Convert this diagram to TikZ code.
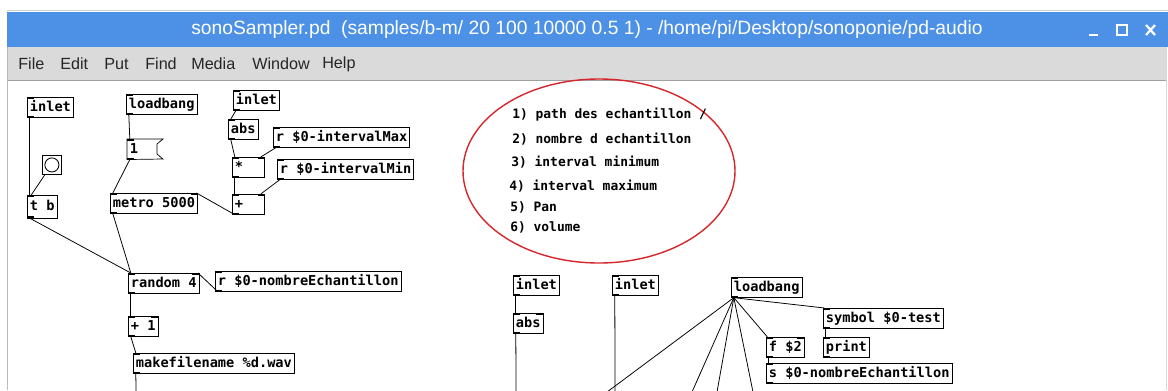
\documentclass[tikz,border=0pt]{standalone}
\usepackage{fontspec}
\setmainfont{Liberation Sans}
\newfontfamily\pdfont{DejaVu Sans Mono}
\usetikzlibrary{positioning, shapes, arrows.meta, calc}
\definecolor{titleblue}{RGB}{76,145,230}
\definecolor{menugray}{RGB}{218,218,218}
\definecolor{framegray}{RGB}{160,160,160}
\definecolor{ovalred}{RGB}{214,38,44}

\begin{document}
\begin{tikzpicture}[x=0.025cm, y=-0.025cm,
    pdobj/.style={draw, line width=0.5pt, anchor=north west,
      font=\pdfont\bfseries\fontsize{9.7}{11}\selectfont,
      inner xsep=1.8pt, inner ysep=0pt, text height=7.6pt, text depth=2.2pt,
      minimum height=14.2pt,
      path picture={\fill (path picture bounding box.north west) rectangle ++(5pt,-1.2pt);
        \fill (path picture bounding box.south west) rectangle ++(5pt,1.2pt);}},
    pdtwo/.style={pdobj,
      path picture={\fill (path picture bounding box.north west) rectangle ++(5pt,-1.2pt);
        \fill (path picture bounding box.north east) rectangle ++(-5pt,-1.2pt);
        \fill (path picture bounding box.south west) rectangle ++(5pt,1.2pt);}},
    bangbox/.style={draw, line width=0.6pt, anchor=north west, minimum size=13.5pt, inner sep=0pt,
      path picture={\draw (path picture bounding box.center) circle (5pt);}},
    note/.style={anchor=west, font=\pdfont\bfseries\fontsize{9.2}{11}\selectfont, inner sep=0pt},
    menuitem/.style={anchor=west, inner sep=0pt, font=\fontsize{11.5}{13}\selectfont, text=black!85},
    cord/.style={line width=0.55pt}]
  \useasboundingbox (0,0) rectangle (1168,390);

  % Window
  \draw[framegray!50] (7,10) -- (1168,10);
  \fill[titleblue] (7,12) rectangle (1168,47);
  \fill[menugray] (7,47) rectangle (1166,80);
  \draw[framegray] (7,80) -- (1166,80);
  \draw[framegray!70] (7,47) -- (7,390);
  \draw[framegray!40] (1166,47) -- (1166,390);
  \node[text=white, font=\fontsize{13.7}{15}\selectfont] (title) at (587,30)
    {sonoSampler.pd\ \ (samples/b-m/ 20 100 10000 0.5 1) - /home/pi/Desktop/sonoponie/pd-audio};
  \draw[white, line width=1.6pt] (1089,35) -- (1098,35);
  \draw[white, line width=1.3pt] (1117,25) rectangle (1127,35);
  \draw[white, line width=1.6pt] (1146,25) -- (1155,35) (1146,35) -- (1155,25);
  \foreach \w/\xx in {File/18, Edit/60, Put/104, Find/145, Media/191, Window/252, Help/322}
    \node[menuitem] (menu\w) at (\xx,64) {\w};

  % Nodes
  \node[pdobj] (inletA) at (27,97) {inlet};
  \node[pdobj] (loadbangA) at (126,94) {loadbang};
  \node[pdobj] (inletB) at (233,90) {inlet};
  \node[pdobj] (absA) at (228,119) {abs};
  \node[pdobj] (rMax) at (273,127) {r \$0-intervalMax};
  \node[anchor=north west, inner xsep=1.8pt, inner ysep=0pt, text height=7.6pt, text depth=2.2pt,
    minimum height=14.2pt, font=\pdfont\bfseries\fontsize{9.7}{11}\selectfont] (msgOne) at (127,139) {1};
  \draw[line width=0.5pt] (msgOne.north west) -- ++(36,0) -- ++(-6,5) -- ++(0,10) -- ++(6,5)
    -- (msgOne.south west) -- cycle;
  \fill (msgOne.north west) rectangle ++(5pt,-1.2pt);
  \fill (msgOne.south west) rectangle ++(5pt,1.2pt);
  \node[bangbox] (bangA) at (42,155) {};
  \node[pdtwo] (mulA) at (232,157) {*\hspace*{13.5pt}};
  \node[pdobj] (rMin) at (277,159) {r \$0-intervalMin};
  \node[pdobj, minimum height=16pt] (tb) at (27,195) {t b};
  \node[pdtwo] (metro) at (110,193) {metro 5000};
  \node[pdtwo] (plusA) at (232,194) {+\hspace*{13.5pt}};
  \node[pdtwo] (random) at (128,273) {random 4};
  \node[pdobj] (rNombre) at (215,271) {r \$0-nombreEchantillon};
  \node[pdtwo] (plusOne) at (128,316) {+ 1};
  \node[pdobj] (makefile) at (133,353) {makefilename \%d.wav};

  \node[pdobj] (inletC) at (513,275) {inlet};
  \node[pdtwo] (absB) at (513,313) {abs};
  \node[pdobj] (inletD) at (612,275) {inlet};
  \node[pdobj] (loadbangB) at (731,277) {loadbang};
  \node[pdobj] (symbol) at (823,308) {symbol \$0-test};
  \node[pdtwo] (fTwo) at (766,337) {f \$2};
  \node[pdobj] (print) at (823,337) {print};
  \node[pdobj] (sNombre) at (766,363) {s \$0-nombreEchantillon};

  % Comment
  \draw[ovalred, line width=1pt] (599,171) ellipse [x radius=136, y radius=92];
  \node[note] (noteA) at (512,115) {1) path des echantillon /};
  \node[note] (noteB) at (512,139) {2) nombre d echantillon};
  \node[note] (noteC) at (511,162) {3) interval minimum};
  \node[note] (noteD) at (509,186) {4) interval maximum};
  \node[note] (noteE) at (510,207) {5) Pan};
  \node[note] (noteF) at (510,227) {6) volume};

  % Free ends
  \coordinate (endA) at (136,392);
  \coordinate (endB) at (516,392);
  \coordinate (endC) at (615,392);
  \foreach \n/\xx in {1/607, 2/692, 3/717, 4/753}
    \coordinate (fan\n) at (\xx,392);

  % Connections
  \draw[cord] ([xshift=2pt]inletA.south west) -- ([xshift=2pt]tb.north west);
  \draw[cord] ([xshift=2pt]bangA.south west) -- ([xshift=3pt]tb.north west);
  \draw[cord] ([xshift=2pt]loadbangA.south west) -- ([xshift=2pt]msgOne.north west);
  \draw[cord] ([xshift=2pt]msgOne.south west) -- ([xshift=2pt]metro.north west);
  \draw[cord] ([xshift=2pt]metro.south west) -- ([xshift=2pt]random.north west);
  \draw[cord] ([xshift=2pt]tb.south west) -- ([xshift=2pt]random.north west);
  \draw[cord] ([xshift=2pt]plusA.south west) -- ([xshift=-1pt]metro.north east);
  \draw[cord] ([xshift=2pt]inletB.south west) -- ([xshift=2pt]absA.north west);
  \draw[cord] ([xshift=2pt]absA.south west) -- ([xshift=2pt]mulA.north west);
  \draw[cord] ([xshift=2pt]rMax.south west) -- ([xshift=-3pt]mulA.north east);
  \draw[cord] ([xshift=2pt]mulA.south west) -- ([xshift=2pt]plusA.north west);
  \draw[cord] ([xshift=2pt]rMin.south west) -- ([xshift=-3pt]plusA.north east);
  \draw[cord] ([xshift=2pt]random.south west) -- ([xshift=2pt]plusOne.north west);
  \draw[cord] ([xshift=2pt]rNombre.south west) -- ([xshift=-1pt]random.north east);
  \draw[cord] ([xshift=2pt]plusOne.south west) -- ([xshift=2pt]makefile.north west);
  \draw[cord] ([xshift=2pt]makefile.south west) -- (endA);

  \draw[cord] ([xshift=2pt]inletC.south west) -- ([xshift=2pt]absB.north west);
  \draw[cord] ([xshift=2pt]absB.south west) -- (endB);
  \draw[cord] ([xshift=2pt]inletD.south west) -- (endC);
  \foreach \n in {1,2,3,4}
    \draw[cord] ([xshift=2pt]loadbangB.south west) -- (fan\n);
  \draw[cord] ([xshift=2pt]loadbangB.south west) -- ([xshift=1pt]fTwo.north west);
  \draw[cord] ([xshift=2pt]loadbangB.south west) -- ([xshift=1pt]symbol.north west);
  \draw[cord] ([xshift=2pt]symbol.south west) -- ([xshift=2pt]print.north west);
  \draw[cord] ([xshift=2pt]fTwo.south west) -- ([xshift=2pt]sNombre.north west);
\end{tikzpicture}
\end{document}
